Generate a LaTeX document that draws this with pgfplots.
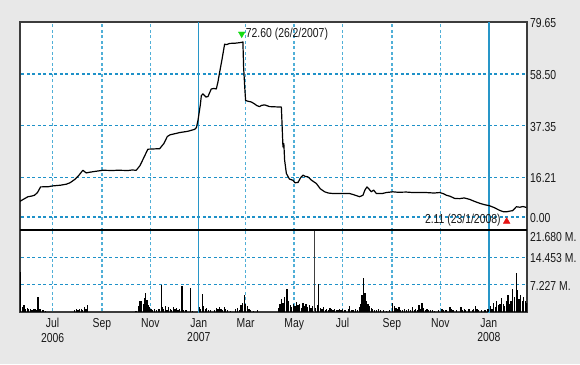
\documentclass[border=0pt]{standalone}
\usepackage{pgfplots}
\pgfplotsset{compat=1.18}
\usepackage{fontspec}
\setmainfont{Liberation Sans}[FakeStretch=0.8]
\definecolor{bg}{RGB}{232,232,232}
\definecolor{hgrid}{RGB}{30,145,200}
\definecolor{vgrid}{RGB}{80,175,215}
\definecolor{jgrid}{RGB}{40,150,200}
\definecolor{frame}{RGB}{60,60,60}
\definecolor{upgreen}{RGB}{20,220,20}
\definecolor{dnred}{RGB}{230,20,20}

\pgfplotstableread{
d v
-41 6.4
-38 7.0
-31 8.3
-27 8.5
-22.7 8.9
-19 10.0
-15.1 12.3
-5 12.4
0 12.7
10 13.0
17.2 13.4
22 14.0
27.7 15.3
33 17.0
38.1 19.1
42.4 18.0
45 18.2
48.7 18.4
63.3 19.1
75 19.0
82.2 19.1
95 19.0
100 19.2
105.3 19.1
110 21.0
113.7 23.5
119.9 27.7
126 27.8
134.7 27.9
140 30.0
144.4 32.9
148 33.6
153.6 34.0
160 34.5
170 35.0
178.7 35.8
181 36.5
183 39.5
186 46.0
187.2 49.6
189.2 50.3
193 49.0
195.5 49.2
199.7 52.3
203 52.5
206 52.3
208 55.0
210.2 59.1
213 64.0
216.5 70.6
219 70.4
222.8 70.9
230 71.0
237.5 71.3
239.5 71.5
240.4 61.1
242 52.0
242.9 47.6
245.8 47.3
250 47.0
254.2 46.2
257 45.5
260.5 45.1
263 45.6
266.8 45.8
273.1 45.1
280 45.0
287.9 44.9
289.9 28.6
291 30.0
292 23.2
294.2 17.8
298 15.5
302.5 15.0
305 14.0
308.8 14.1
312 16.0
315.1 17.1
318 16.6
321.4 16.4
326 15.0
331.9 13.7
337 11.5
342.4 10.3
347 9.8
352.8 9.6
373.8 9.6
380 9.0
386.4 8.3
390.6 8.9
393 11.0
395.6 12.3
398 11.5
401.1 10.3
404 11.0
407.4 9.6
415 9.6
420 10.0
428.3 10.3
435 10.1
445 10.2
453.5 10.0
470 10.0
480 9.8
487.1 10.0
492 9.5
495.5 8.9
500 8.5
506 7.6
512 7.5
518 7.8
524.9 7.2
530 6.5
537.5 5.6
544 5.0
550 4.6
556 3.8
562 2.8
566.8 2.2
571 2.11
575.2 2.4
579 2.6
583.6 4.2
588 4.0
592 4.3
596.2 3.9
}\price

\pgfplotstableread{
d v
-41 10.5
-40 2.0
-38 1.2
-36 1.8
-34 0.9
-32 1.1
-30 0.7
-28 0.9
-26 0.6
-24 0.8
-22 0.7
-20 0.6
-18.5 4.0
-17 0.7
-15 0.8
-12 0.5
-9 0.3
28 0.6
30 0.8
32 0.5
34 0.7
36 0.9
38 0.6
40 1.3
42 0.8
44 1.9
105 0.3
108 1.5
110 2.8
111 1.2
112 3.0
114 2.0
115 1.6
116 3.6
117 5.0
118 2.5
119 3.3
120 1.8
122 1.2
124 0.8
126 0.5
128 0.7
131 0.5
134 0.9
136.8 7.1
138 1.2
140 0.8
142 1.5
144 0.6
146 1.2
148 0.9
150 0.6
152 1.4
154 0.7
156 1.0
158 0.5
160 0.8
163 7.0
165 0.6
168 0.4
173.7 6.3
176 0.3
185 1.2
186 0.8
188.4 4.7
190 1.5
192 0.8
194 1.0
196 0.5
199 0.6
204 0.4
206 1.0
208 0.7
210 1.2
212 0.9
214 0.5
216 1.4
218 0.8
220 0.4
224 0.3
230 0.7
233 1.0
235 0.6
237 1.8
239 2.5
241.7 4.5
243 2.0
245 1.5
247 0.8
249 0.5
253 0.3
258 0.4
284 1.0
286 2.0
288 3.5
290 2.5
292 4.0
294 3.2
295 6.1
297 2.8
299 1.8
301 1.2
303 2.0
305 1.5
307 2.6
309 1.8
311 2.2
313 1.0
315 2.5
317 1.5
319 2.0
321 1.2
323 1.8
325 1.0
327 1.5
331 1.0
333 1.8
335 7.3
337 1.0
339 0.8
341 1.2
343 0.6
345 0.9
347 0.5
349 1.0
351 0.7
353 0.5
355 0.8
357 0.6
359 0.4
361 0.7
363 0.5
365 0.9
367 0.6
369 0.4
372 0.8
374 1.5
376 0.6
378 0.5
381 0.7
384 0.4
386 1.2
388 2.0
389.5 4.5
391.4 9.1
393 5.0
395 3.0
397 2.0
399 1.5
401 1.0
403 0.8
405 0.6
408 0.5
410 0.7
413 0.4
416 0.6
420 0.3
424 0.5
428 2.5
430 1.5
432 1.0
434 0.8
436 1.2
438 0.6
440 0.5
443 0.8
445 0.4
448 0.7
450 0.5
453 1.2
455 0.6
457 0.9
459 0.5
461 1.8
463 0.8
465 2.3
467 1.0
469 0.6
471 0.8
473 0.5
476 0.4
478 0.6
481 0.3
486 0.4
490 0.8
492 0.5
495 0.6
500 1.2
502 0.8
504 0.5
508 0.4
514 1.2
516 0.6
518 0.9
520 0.4
524 0.7
528 0.5
530 0.9
532 1.5
534 0.7
536 0.4
540 0.6
544 0.5
548 0.8
551 1.5
553 0.8
555 2.5
557 1.2
559 3.0
561 1.8
563 2.2
565 3.8
567 2.0
569 1.5
571 2.8
573 4.5
575 2.0
577 3.0
579 6.0
581 4.0
583.6 10.2
585 5.8
587 3.5
589 4.5
591 2.8
593 4.0
595 3.0
597 2.5
}\volume

\pgfplotsset{
  panel/.style={
    scale only axis, width=507pt,
    xmin=-41, xmax=597,
    axis line style={draw=frame, line width=1.4pt},
    axis background/.style={fill=white},
    tick style={draw=none}, major tick length=0pt,
    font=\fontsize{13}{14.5}\selectfont,
    yticklabel pos=right,
    yticklabel style={anchor=west, inner sep=0pt, xshift=3pt, yshift=-1pt, text=black!90},
    xticklabel style={text=black!90},
  },
  vline/.style={draw=vgrid, dash pattern=on 3pt off 2.5pt, line width=1.4pt, forget plot},
  hline/.style={draw=hgrid, dash pattern=on 3pt off 2.5pt, line width=1.6pt, forget plot},
  jline/.style={draw=jgrid, line width=1.3pt, forget plot},
}

\begin{document}
\begin{tikzpicture}
\fill[bg] (0pt,0pt) rectangle (580pt,364pt);
\useasboundingbox (0pt,0pt) rectangle (580pt,364pt);

% ---------- price panel ----------
\begin{axis}[panel, at={(20pt,134pt)}, anchor=south west, height=208pt,
  ymin=-5.3, ymax=79.65,
  ytick={0,16.21,37.35,58.50,79.65},
  yticklabels={0.00,16.21,37.35,58.50,79.65},
  xtick=\empty]
\pgfplotsinvokeforeach{0,16.21,37.35,58.50}{
  \addplot[hline] coordinates {(-60,#1) (620,#1)};
}
\pgfplotsinvokeforeach{0,62,123,243,304,365,427,488}{
  \addplot[vline] coordinates {(#1,-10) (#1,100)};
}
\addplot[jline] coordinates {(184,-10) (184,100)};
\addplot[jline] coordinates {(549,-10) (549,100)};
\addplot[black, line width=1.2pt, line join=round] table[x=d, y=v] {\price};
\addplot[only marks, mark=triangle*, mark size=3.8pt,
  mark options={rotate=180, fill=upgreen, draw=upgreen}] coordinates {(238,74.8)};
\node[anchor=west, inner sep=0pt, font=\fontsize{13}{14.5}\selectfont, text=black!90]
  at (axis cs:243,74.6) {72.60 (26/2/2007)};
\addplot[only marks, mark=triangle*, mark size=3.8pt,
  mark options={fill=dnred, draw=dnred}] coordinates {(571.4,-1.8)};
\node[anchor=east, inner sep=0pt, font=\fontsize{13}{14.5}\selectfont, text=black!90]
  at (axis cs:564,-1.2) {2.11 (23/1/2008)};
\end{axis}

% ---------- volume panel ----------
\begin{axis}[panel, at={(20pt,52pt)}, anchor=south west, height=82pt,
  ymin=0, ymax=21.68,
  ytick={7.227,14.453},
  yticklabels={7.227 M.,14.453 M.},
  extra y ticks={21.68},
  extra y tick labels={21.680 M.},
  extra y tick style={yticklabel style={yshift=-6pt}},
  xtick={0,62,123,184,243,304,365,427,488,549},
  xticklabels={Jul\\2006,Sep,Nov,Jan\\2007,Mar,May,Jul,Sep,Nov,Jan\\2008},
  xticklabel style={align=center, anchor=north, inner sep=0pt, yshift=-6pt}]
\pgfplotsinvokeforeach{7.227,14.453}{
  \addplot[hline] coordinates {(-60,#1) (620,#1)};
}
\pgfplotsinvokeforeach{0,62,123,243,304,365,427,488}{
  \addplot[vline] coordinates {(#1,-10) (#1,100)};
}
\addplot[jline] coordinates {(184,-10) (184,100)};
\addplot[jline] coordinates {(549,-10) (549,100)};
\addplot[ycomb, black, line width=1.3pt] table[x=d, y=v] {\volume};
\addplot[ycomb, black!75, line width=0.9pt] coordinates {(329.8,25)};
\end{axis}
\draw[black, line width=1.6pt] (20pt,134pt) -- (527pt,134pt);
\end{tikzpicture}
\end{document}
